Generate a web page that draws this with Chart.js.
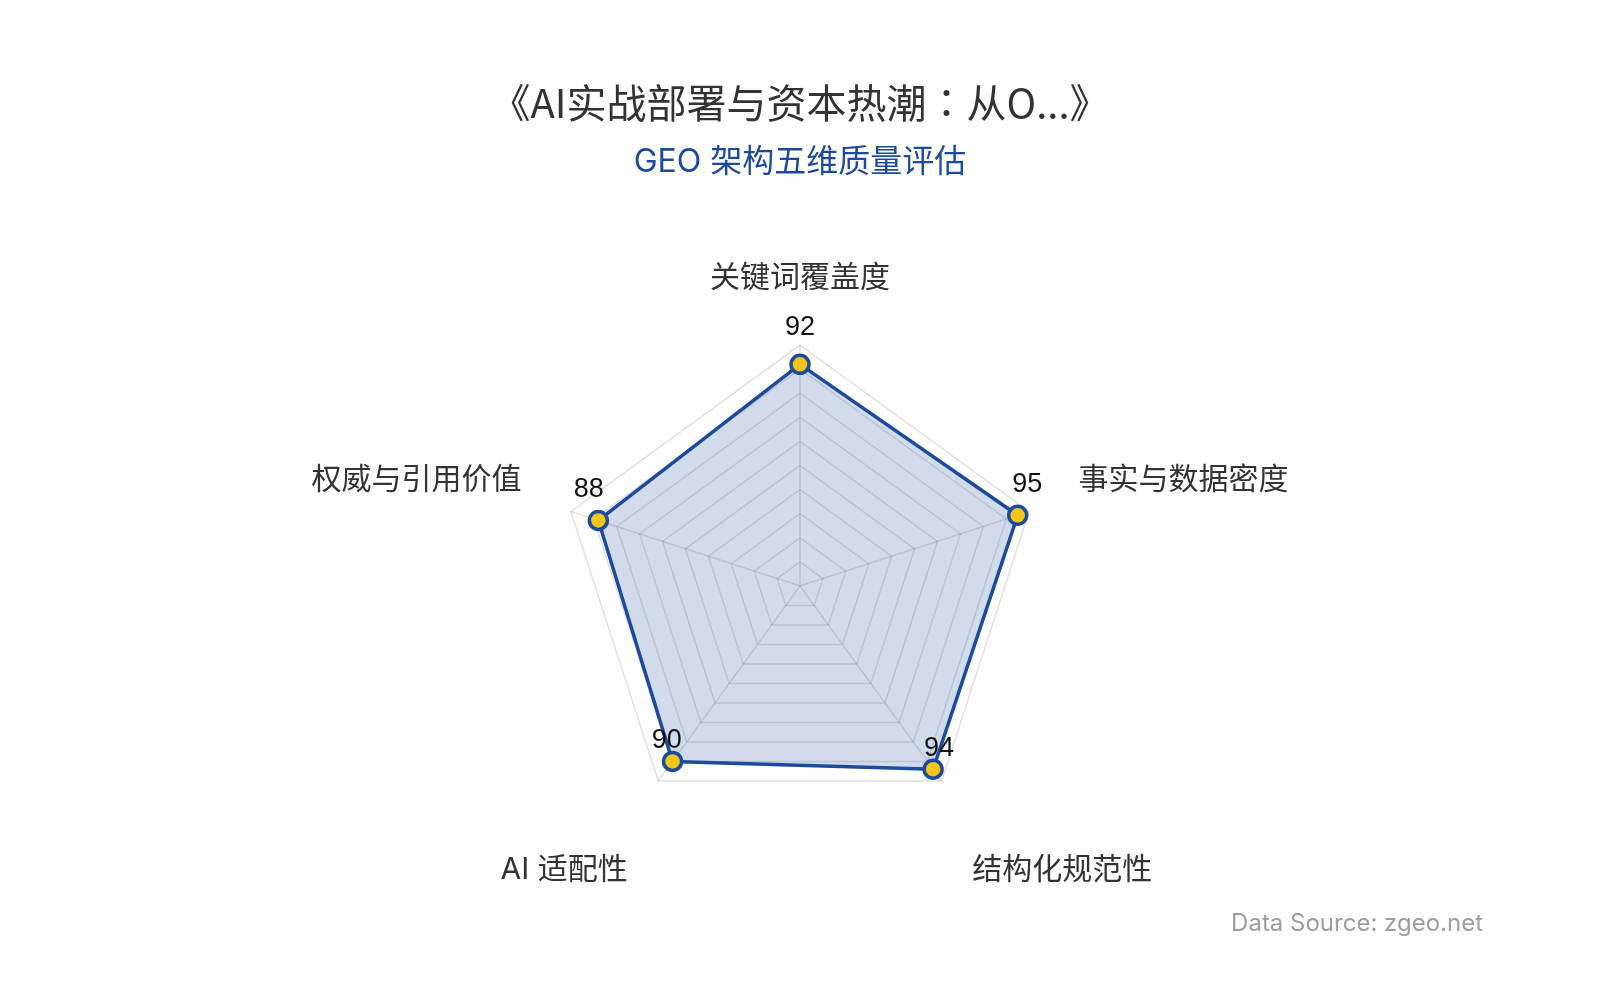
<!DOCTYPE html>
<html>
<head>
<meta charset="utf-8">
<script src="https://cdn.jsdelivr.net/npm/chart.js@4.4.1/dist/chart.umd.min.js"></script>
<style>
  html, body { margin: 0; padding: 0; background: #fff; }
  #wrap { width: 1600px; height: 1000px; }
</style>
</head>
<body>
<div id="wrap"><canvas id="chart"></canvas></div>
<script>
// chart data
const dimensions = ['关键词覆盖度', '事实与数据密度', '结构化规范性', 'AI 适配性', '权威与引用价值'];
const scores = [92, 95, 94, 90, 88];
const scaleMin = 0;
const scaleMax = 100;
const scaleStep = 10;

const titleText = '《AI实战部署与资本热潮：从O...》';
const subtitleText = 'GEO 架构五维质量评估';
const sourceText = 'Data Source: zgeo.net';

const FONT = "Inter, 'Noto Sans CJK SC', sans-serif";
const TITLE_FONT = "'Noto Sans CJK TC', 'Noto Sans CJK SC', sans-serif";
const BLUE = '#1c4b9e';

// value labels next to each point
const valueLabels = {
    id: 'valueLabels',
    afterDatasetsDraw(chart) {
        const ctx = chart.ctx;
        const scale = chart.scales.r;
        const meta = chart.getDatasetMeta(0);
        ctx.save();
        ctx.font = "27px 'Liberation Sans', Arial, sans-serif";
        ctx.fillStyle = '#111';
        ctx.textAlign = 'center';
        ctx.textBaseline = 'middle';
        meta.data.forEach((pt, i) => {
            const a = scale.getIndexAngle(i);
            const dx = 10 * Math.sin(a);
            const dy = -28 - 9 * Math.cos(a);
            ctx.fillText(String(scores[i]), pt.x + dx, pt.y + dy);
        });
        ctx.restore();
    }
};

// source caption, bottom right
const sourceNote = {
    id: 'sourceNote',
    afterDraw(chart) {
        const ctx = chart.ctx;
        ctx.save();
        ctx.font = '24px ' + FONT;
        ctx.fillStyle = '#9e9e9e';
        ctx.textAlign = 'right';
        ctx.textBaseline = 'middle';
        ctx.fillText(sourceText, 1483, 924);
        ctx.restore();
    }
};

new Chart(document.querySelector('#chart'), {
    type: 'radar',
    data: {
        labels: dimensions,
        datasets: [{
            label: subtitleText,
            data: scores,
            borderColor: BLUE,
            borderWidth: 3.5,
            backgroundColor: 'rgba(30, 75, 155, 0.2)',
            fill: true,
            pointRadius: 9,
            pointHoverRadius: 9,
            pointBorderWidth: 3.5,
            pointBackgroundColor: '#f5c518',
            pointBorderColor: BLUE
        }]
    },
    options: {
        responsive: true,
        maintainAspectRatio: false,
        animation: false,
        layout: { padding: { top: 0, bottom: 79, left: 0, right: 0 } },
        plugins: {
            legend: { display: false },
            tooltip: { enabled: false },
            title: {
                display: true,
                text: titleText,
                color: '#333',
                font: { size: 40, family: TITLE_FONT, weight: 'normal' },
                padding: { top: 79, bottom: 0 }
            },
            subtitle: {
                display: true,
                text: subtitleText,
                color: BLUE,
                font: { size: 32, family: FONT, weight: 'normal' },
                padding: { top: 16, bottom: 78 }
            }
        },
        scales: {
            r: {
                min: scaleMin,
                max: scaleMax,
                ticks: { display: false, stepSize: scaleStep },
                grid: { color: 'rgba(0,0,0,0.12)', lineWidth: 1.5 },
                angleLines: { color: 'rgba(0,0,0,0.12)', lineWidth: 1.5 },
                pointLabels: {
                    color: '#333',
                    padding: 52,
                    font: (c) => {
                        const idx = c.index;
                        const bottom = idx === 2 || idx === 3;
                        return { size: 30, family: FONT, lineHeight: bottom ? '94px' : '30px' };
                    }
                }
            }
        }
    },
    plugins: [valueLabels, sourceNote]
});
</script>
</body>
</html>
